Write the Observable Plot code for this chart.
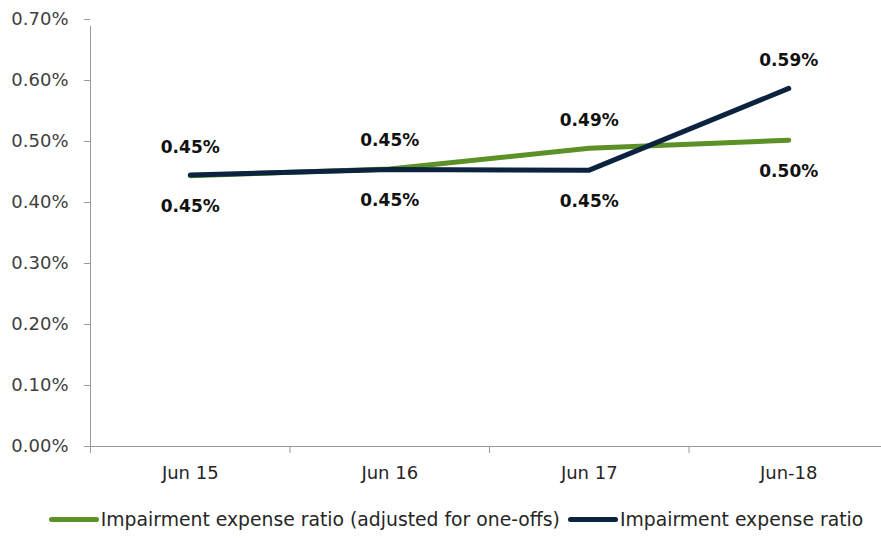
<!DOCTYPE html>
<html>
<head>
<meta charset="utf-8">
<script src="https://cdn.jsdelivr.net/npm/d3@7"></script>
<script src="https://cdn.jsdelivr.net/npm/@observablehq/plot@0.6"></script>
<style>
  html, body { margin: 0; padding: 0; background: #fff; }
  body { width: 881px; height: 538px; overflow: hidden; font-family: "DejaVu Sans", sans-serif; }
  #legend { display: flex; justify-content: center; align-items: center; gap: 8px; font-size: 18.8px; color: #262626; margin-top: 19px; padding-left: 31px; white-space: nowrap; }
  .item { display: flex; align-items: center; }
  .sw { display: inline-block; width: 50px; height: 5px; border-radius: 3px; margin-right: 2px; }
</style>
</head>
<body>
<div id="chart"></div>
<div id="legend"></div>
<script>
const categories = ["Jun 15", "Jun 16", "Jun 17", "Jun-18"];
const adjusted = [0.00444, 0.00455, 0.00489, 0.00502];
const reported = [0.00445, 0.00454, 0.00453, 0.00587];
const adjustedLabels = ["0.45%", "0.45%", "0.49%", "0.50%"];
const reportedLabels = ["0.45%", "0.45%", "0.45%", "0.59%"];
const yTicks = [0, 0.001, 0.002, 0.003, 0.004, 0.005, 0.006, 0.007];
const seriesNames = ["Impairment expense ratio (adjusted for one-offs)", "Impairment expense ratio"];
const colors = ["#5b9127", "#0c2340"];

const data = [];
categories.forEach((c, i) => {
  data.push({i, cat: c, value: adjusted[i], label: adjustedLabels[i], series: seriesNames[0], above: adjusted[i] >= reported[i]});
  data.push({i, cat: c, value: reported[i], label: reportedLabels[i], series: seriesNames[1], above: reported[i] > adjusted[i]});
});
const bounds = d3.range(-0.5, categories.length, 1);

const chart = Plot.plot({
  width: 881,
  height: 490,
  marginLeft: 90,
  marginRight: -7,
  marginTop: 19,
  marginBottom: 44,
  style: {fontFamily: "'DejaVu Sans', sans-serif", background: "#fff"},
  x: {domain: [-0.5, categories.length - 0.5]},
  y: {domain: [0, 0.007]},
  color: {domain: seriesNames, range: colors},
  marks: [
    Plot.axisY({ticks: yTicks, tickFormat: d3.format(".2%"), tickSize: 6, tickPadding: 16, fontSize: 18, color: "#404040", stroke: "#999", label: null}),
    Plot.axisX({ticks: bounds, tickFormat: () => "", tickSize: 7, stroke: "#999", label: null}),
    Plot.axisX({ticks: d3.range(categories.length), tickFormat: i => categories[i], tickSize: 0, tickPadding: 20, fontSize: 18, color: "#262626", label: null}),
    Plot.ruleX([-0.5], {stroke: "#999", y1: 0, y2: 0.007, insetBottom: -7}),
    Plot.ruleY([0], {stroke: "#999"}),
    Plot.line(data, {x: "i", y: "value", z: "series", stroke: "series", strokeWidth: 5, strokeLinecap: "round", strokeLinejoin: "round"}),
    Plot.text(data.filter(d => d.above), {x: "i", y: "value", text: "label", dy: -28, fontSize: 17, fontWeight: "bold", fill: "#111"}),
    Plot.text(data.filter(d => !d.above), {x: "i", y: "value", text: "label", dy: 31, fontSize: 17, fontWeight: "bold", fill: "#111"})
  ]
});
document.getElementById("chart").appendChild(chart);

const legend = document.getElementById("legend");
seriesNames.forEach((n, k) => {
  const it = document.createElement("span");
  it.className = "item";
  it.innerHTML = `<span class="sw" style="background:${colors[k]}"></span><span>${n}</span>`;
  legend.appendChild(it);
});
</script>
</body>
</html>
